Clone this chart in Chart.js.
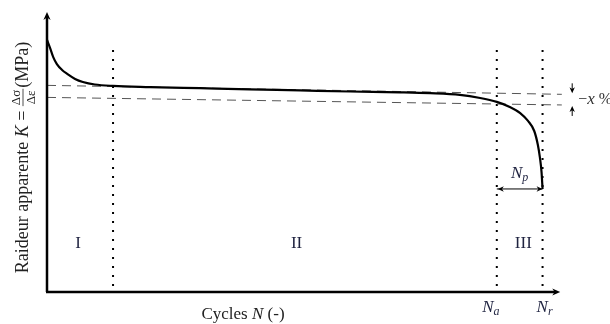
<!DOCTYPE html>
<html>
<head>
<meta charset="utf-8">
<script src="https://cdn.jsdelivr.net/npm/chart.js@4.4.0/dist/chart.umd.min.js"></script>
<style>
  html, body { margin: 0; padding: 0; background: #fff; }
  #wrap { width: 610px; height: 324px; }
</style>
</head>
<body>
<div id="wrap"><canvas id="raideurChart" width="610" height="324"></canvas></div>
<script>
// schematic stiffness curve (arbitrary units, 0..100 on both axes)
const cycles = [0, 0.6, 1.2, 1.9, 2.9, 3.9, 5.4, 6.9, 9.2, 12.7, 19.8, 29.4, 39.0, 48.7, 58.3, 67.9, 73.7, 79.4, 83.3, 86.5, 89.0, 91.0, 92.5, 93.7, 94.4, 94.8, 95.1, 95.3];
const stiffness = [90, 87.1, 83.9, 81.4, 79.3, 77.9, 76.1, 75.0, 74.1, 73.6, 73.2, 72.8, 72.4, 72.0, 71.6, 71.3, 71.0, 70.4, 69.3, 67.9, 66.1, 63.9, 61.1, 57.5, 52.5, 47.9, 42.9, 36.8];

// phase boundaries : end of phase I, N_a, N_r
const phaseBounds = [12.7, 86.5, 95.3];
const boundTop = 86.4;
const phaseLabels = ["I", "II", "III"];
const phaseLabelX = [6, 48, 91.6];
const phaseLabelY = 17.9;

// tolerance band (-x %)
const bandX = [0, 99];
const bandUpper = [73.8, 70.6];
const bandLower = [69.5, 66.8];

const xMax = 100, yMax = 100;

const SERIF = "'Liberation Serif', 'DejaVu Serif', serif";
const ink = "#000";
const labelInk = "#1f2340";

const toPts = (xs, ys) => xs.map((x, i) => ({ x: x, y: ys[i] }));

const datasets = [
  {
    data: toPts(cycles, stiffness),
    borderColor: ink,
    borderWidth: 2.2,
    cubicInterpolationMode: "monotone",
    pointRadius: 0,
  },
  {
    data: toPts(bandX, bandUpper),
    borderColor: "#555",
    borderWidth: 1,
    borderDash: [9, 6],
    pointRadius: 0,
  },
  {
    data: toPts(bandX, bandLower),
    borderColor: "#555",
    borderWidth: 1,
    borderDash: [9, 6],
    pointRadius: 0,
  },
];

phaseBounds.forEach(b => {
  datasets.push({
    data: [{ x: b, y: boundTop }, { x: b, y: 0 }],
    borderColor: ink,
    borderWidth: 2,
    borderDash: [2, 7],
    pointRadius: 0,
  });
});

// N_p span between N_a and N_r at the end of the curve
datasets.push({
  data: [{ x: phaseBounds[1], y: stiffness[stiffness.length - 1] }, { x: phaseBounds[2], y: stiffness[stiffness.length - 1] }],
  borderColor: ink,
  borderWidth: 1,
  pointRadius: 0,
});

function drawRuns(ctx, runs, x, y, align) {
  let w = 0;
  runs.forEach(r => { ctx.font = r.font; w += ctx.measureText(r.t).width; });
  let cx = align === "center" ? x - w / 2 : x;
  ctx.textBaseline = "alphabetic";
  ctx.textAlign = "left";
  runs.forEach(r => {
    ctx.font = r.font;
    ctx.fillText(r.t, cx, y + (r.dy || 0));
    cx += ctx.measureText(r.t).width;
  });
}

function arrowHead(ctx, x, y, dir, size) {
  ctx.save();
  ctx.translate(x, y);
  ctx.rotate(dir);
  ctx.beginPath();
  ctx.moveTo(0, 0);
  ctx.lineTo(-size, -size * 0.45);
  ctx.lineTo(-size * 0.7, 0);
  ctx.lineTo(-size, size * 0.45);
  ctx.closePath();
  ctx.fill();
  ctx.restore();
}

const annotations = {
  id: "annotations",
  afterDatasetsDraw(chart) {
    const ctx = chart.ctx;
    const xs = chart.scales.x, ys = chart.scales.y;
    const px = v => xs.getPixelForValue(v);
    const py = v => ys.getPixelForValue(v);
    ctx.save();
    ctx.fillStyle = ink;
    ctx.strokeStyle = ink;

    // axes with arrows
    const x0 = px(0), y0 = py(0);
    ctx.lineWidth = 2.5;
    ctx.beginPath();
    ctx.moveTo(x0, y0);
    ctx.lineTo(x0, py(yMax) + 4);
    ctx.moveTo(x0 - 1, y0);
    ctx.lineTo(px(98.7) - 4, y0);
    ctx.stroke();
    arrowHead(ctx, x0, py(yMax), -Math.PI / 2, 8);
    arrowHead(ctx, px(98.7), y0, 0, 8);

    // N_p arrow heads
    const npY = py(stiffness[stiffness.length - 1]);
    arrowHead(ctx, px(phaseBounds[1]) + 1, npY, Math.PI, 6);
    arrowHead(ctx, px(phaseBounds[2]), npY, 0, 6);

    // -x % arrows
    const ax = px(101);
    const upY = py(bandUpper[1]) - 1;
    const loY = py(bandLower[1]) + 1;
    ctx.lineWidth = 1;
    ctx.beginPath();
    ctx.moveTo(ax, upY - 10);
    ctx.lineTo(ax, upY - 4);
    ctx.moveTo(ax, loY + 4);
    ctx.lineTo(ax, loY + 10);
    ctx.stroke();
    arrowHead(ctx, ax, upY, Math.PI / 2, 6);
    arrowHead(ctx, ax, loY, -Math.PI / 2, 6);

    // phase labels
    ctx.fillStyle = labelInk;
    phaseLabels.forEach((t, i) => {
      drawRuns(ctx, [{ t: t, font: "17px " + SERIF }], px(phaseLabelX[i]), py(phaseLabelY) + 6, "center");
    });

    // N_a, N_r, N_p
    const it = "italic 17px " + SERIF;
    const sub = "italic 12px " + SERIF;
    drawRuns(ctx, [{ t: "N", font: it }, { t: "a", font: sub, dy: 3 }], px(phaseBounds[1]) - 6, 312, "center");
    drawRuns(ctx, [{ t: "N", font: it }, { t: "r", font: sub, dy: 3 }], px(phaseBounds[2]) + 2, 312, "center");
    drawRuns(ctx, [{ t: "N", font: it }, { t: "p", font: sub, dy: 3 }], px(90.9), 178, "center");

    // -x %
    ctx.fillStyle = "#333";
    drawRuns(ctx, [{ t: "\u2212", font: "16px " + SERIF }, { t: "x", font: "italic 17px " + SERIF }, { t: " %", font: "16px " + SERIF }], ax + 6, 104, "left");

    // x axis title
    ctx.fillStyle = "#222";
    drawRuns(ctx, [{ t: "Cycles ", font: "17px " + SERIF }, { t: "N", font: it }, { t: " (-)", font: "17px " + SERIF }], 243, 319, "center");

    // y axis title (rotated)
    ctx.save();
    ctx.translate(28, 158);
    ctx.rotate(-Math.PI / 2);
    const f = "18px " + SERIF;
    const fi = "italic 18px " + SERIF;
    const parts = [["Raideur apparente ", f], ["K", fi], [" = ", f]];
    let w = 0;
    parts.forEach(p => { ctx.font = p[1]; w += ctx.measureText(p[0]).width; });
    ctx.font = "13px " + SERIF;
    const fracW = Math.max(ctx.measureText("\u0394\u03c3").width, ctx.measureText("\u0394\u03b5").width) + 2;
    ctx.font = f;
    const tailW = ctx.measureText("(MPa)").width;
    let cx = -(w + fracW + tailW) / 2;
    parts.forEach(p => {
      ctx.font = p[1];
      ctx.fillText(p[0], cx, 0);
      cx += ctx.measureText(p[0]).width;
    });
    ctx.font = "13px " + SERIF;
    ctx.textAlign = "center";
    const fx = cx + fracW / 2;
    ctx.fillText("\u0394\u03c3", fx, -8);
    ctx.fillText("\u0394\u03b5", fx, 7);
    ctx.lineWidth = 0.8;
    ctx.strokeStyle = "#222";
    ctx.beginPath();
    ctx.moveTo(cx, -5);
    ctx.lineTo(cx + fracW, -5);
    ctx.stroke();
    ctx.textAlign = "left";
    ctx.font = f;
    ctx.fillText("(MPa)", cx + fracW + 1, 0);
    ctx.restore();

    ctx.restore();
  },
};

const ctx = document.getElementById("raideurChart").getContext("2d");
new Chart(ctx, {
  type: "line",
  data: { datasets: datasets },
  options: {
    responsive: false,
    animation: false,
    events: [],
    layout: { padding: { left: 47, right: 43, top: 12, bottom: 32 } },
    elements: { line: { borderCapStyle: "butt" } },
    plugins: {
      legend: { display: false },
      tooltip: { enabled: false },
    },
    scales: {
      x: { type: "linear", min: 0, max: xMax, display: false },
      y: { type: "linear", min: 0, max: yMax, display: false },
    },
  },
  plugins: [annotations],
});
</script>
</body>
</html>
